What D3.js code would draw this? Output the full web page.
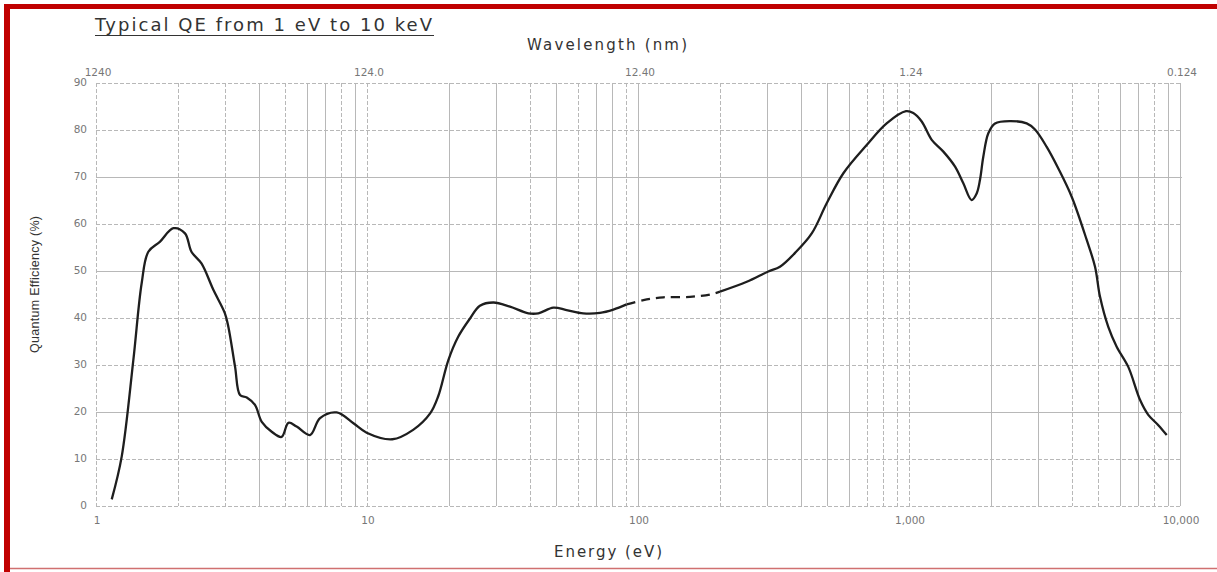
<!DOCTYPE html>
<html>
<head>
<meta charset="utf-8">
<script src="https://cdn.jsdelivr.net/npm/d3@7"></script>
<style>
  body { margin: 0; background: #fff; }
  svg { display: block; }
</style>
</head>
<body>
<div id="chart"></div>
<script>
const WIDTH = 1217;
const HEIGHT = 572;

// energy (eV) / quantum efficiency (%)
const energy1 = [1.143, 1.244, 1.373, 1.474, 1.56, 1.72, 1.93, 2.13, 2.25, 2.45, 2.71, 2.99, 3.08, 3.26, 3.40, 3.60, 3.86, 4.09, 4.45, 4.84, 5.13, 5.5, 6.16, 6.71, 7.73, 8.91, 9.97, 12.4, 14.8, 17.1, 18.3, 19.95, 21.7, 24, 26.1, 29.3, 33.7, 39.4, 42.9, 48.7, 54.5, 62.8, 72.4, 81.1, 90.8];
const qe1     = [1.4, 10.5, 31, 47.4, 54.1, 56.2, 59.1, 58.0, 54.1, 51.6, 46, 41, 38.1, 29.6, 23.6, 23.1, 21.5, 17.9, 15.8, 14.7, 17.7, 16.9, 15.1, 18.7, 19.9, 17.6, 15.6, 14.2, 16.2, 19.7, 23.3, 31, 36, 39.9, 42.6, 43.3, 42.4, 41, 41, 42.2, 41.7, 41, 41.1, 41.8, 42.9];

// interpolated (dashed) stretch
const energy2 = [90.8, 104.7, 124, 155.6, 184.4, 200.7];
const qe2     = [42.9, 43.8, 44.4, 44.5, 45, 45.6];

const energy3 = [200.7, 252, 302.6, 334, 379, 437.7, 497, 572.5, 698, 827, 975, 1037, 1114, 1213, 1339, 1479, 1585, 1702, 1777, 1828, 1880, 1962, 2077, 2359, 2718, 2917, 3222, 3557, 3984, 4527, 4858, 5069, 5437, 5838, 6444, 7118, 7637, 8318, 8933];
const qe3     = [45.6, 47.7, 49.9, 50.9, 53.8, 58, 64.4, 70.8, 76.8, 81.4, 84.0, 83.6, 81.8, 77.9, 75.4, 72.2, 68.7, 65.1, 66.5, 69.4, 74.3, 79.3, 81.4, 81.9, 81.4, 80.1, 76.4, 71.8, 65.8, 56.6, 50.9, 44.5, 38.1, 33.9, 29.6, 22.6, 19.4, 17.2, 15.1];

const energyTicks = [1, 10, 100, 1000, 10000];
const energyLabels = ['1', '10', '100', '1,000', '10,000'];
const wavelengthLabels = ['1240', '124.0', '12.40', '1.24', '0.124'];
const qeTicks = [0, 10, 20, 30, 40, 50, 60, 70, 80, 90];

// which grid lines look solid in the original (others dashed)
const solidX = new Set([4, 6, 7, 9, 20, 30, 50, 70, 80, 100, 300, 400, 500, 600, 2000, 3000, 6000, 7000, 9000, 10000]);
const solidY = new Set([20, 50, 70]);

const GRID = "#b8b8b8";
const FONT = "'DejaVu Sans', sans-serif";

var svg = d3.select("#chart").append("svg")
    .attr("width", WIDTH)
    .attr("height", HEIGHT);

// red frame
svg.append("rect").attr("x", 4).attr("y", 4).attr("width", WIDTH - 4).attr("height", 5).attr("fill", "#c00000");
svg.append("rect").attr("x", 4).attr("y", 4).attr("width", 6).attr("height", HEIGHT - 4).attr("fill", "#c00000");
svg.append("line").attr("x1", 10).attr("x2", WIDTH).attr("y1", 568.5).attr("y2", 568.5)
    .attr("stroke", "#d07070").attr("stroke-width", 1.5);

var xScale = d3.scaleLog()
    .domain([1, 10000])
    .range([96, 1180]);

var yScale = d3.scaleLinear()
    .domain([0, 90])
    .range([506, 83]);

// vertical grid at every log tick
const xGrid = xScale.ticks();
svg.append("g").selectAll("line")
    .data(xGrid)
    .enter()
    .append("line")
        .attr("x1", d => Math.round(xScale(d)) + 0.5)
        .attr("x2", d => Math.round(xScale(d)) + 0.5)
        .attr("y1", yScale(90))
        .attr("y2", yScale(0))
        .attr("stroke", GRID)
        .attr("stroke-width", 1)
        .attr("stroke-dasharray", d => solidX.has(Math.round(d)) ? null : "4,2");

svg.append("g").selectAll("line")
    .data(qeTicks)
    .enter()
    .append("line")
        .attr("x1", xScale(1))
        .attr("x2", xScale(10000) + 2)
        .attr("y1", d => Math.round(yScale(d)) + 0.5)
        .attr("y2", d => Math.round(yScale(d)) + 0.5)
        .attr("stroke", GRID)
        .attr("stroke-width", 1)
        .attr("stroke-dasharray", d => solidY.has(d) ? null : "4,2");

// y tick labels
svg.append("g").selectAll("text")
    .data(qeTicks)
    .enter()
    .append("text")
        .attr("x", 87)
        .attr("y", d => yScale(d) + 3)
        .attr("text-anchor", "end")
        .attr("font-family", FONT)
        .attr("font-size", "10.5px")
        .attr("fill", "#777")
        .text(d => d);

// bottom labels
svg.append("g").selectAll("text")
    .data(energyTicks)
    .enter()
    .append("text")
        .attr("x", d => xScale(d) + 1)
        .attr("y", 524)
        .attr("text-anchor", "middle")
        .attr("font-family", FONT)
        .attr("font-size", "10.5px")
        .attr("fill", "#777")
        .text((d, i) => energyLabels[i]);

// top (wavelength) labels
svg.append("g").selectAll("text")
    .data(energyTicks)
    .enter()
    .append("text")
        .attr("x", d => xScale(d) + 2)
        .attr("y", 76)
        .attr("text-anchor", "middle")
        .attr("font-family", FONT)
        .attr("font-size", "10.5px")
        .attr("fill", "#777")
        .text((d, i) => wavelengthLabels[i]);

// titles
svg.append("text")
    .attr("x", 95)
    .attr("y", 31)
    .attr("font-family", FONT)
    .attr("font-size", "18px")
    .attr("fill", "#333")
    .attr("textLength", 337)
    .attr("lengthAdjust", "spacing")
    .text("Typical QE from 1 eV to 10 keV");
svg.append("line")
    .attr("x1", 95).attr("x2", 434)
    .attr("y1", 35.5).attr("y2", 35.5)
    .attr("stroke", "#333").attr("stroke-width", 1.2);

svg.append("text")
    .attr("x", 527)
    .attr("y", 50)
    .attr("font-family", FONT)
    .attr("font-size", "15px")
    .attr("fill", "#333")
    .attr("textLength", 160)
    .attr("lengthAdjust", "spacing")
    .text("Wavelength (nm)");

svg.append("text")
    .attr("x", 554)
    .attr("y", 557)
    .attr("font-family", FONT)
    .attr("font-size", "15px")
    .attr("fill", "#333")
    .attr("textLength", 108)
    .attr("lengthAdjust", "spacing")
    .text("Energy (eV)");

svg.append("text")
    .attr("transform", "translate(39,353) rotate(-90)")
    .attr("font-family", "'Liberation Sans', sans-serif")
    .attr("font-size", "12.5px")
    .attr("fill", "#333")
    .attr("textLength", 137)
    .attr("lengthAdjust", "spacing")
    .text("Quantum Efficiency  (%)");

// curve
var line = d3.line()
    .x(d => xScale(d[0]))
    .y(d => yScale(d[1]))
    .curve(d3.curveCatmullRom.alpha(0.5));

const seg = (es, qs) => es.map((e, i) => [e, qs[i]]);

svg.append("path")
    .datum(seg(energy1, qe1))
    .attr("fill", "none")
    .attr("stroke", "#1e1e1e")
    .attr("stroke-width", 2.3)
    .attr("stroke-linejoin", "round")
    .attr("d", line);

svg.append("path")
    .datum(seg(energy2, qe2))
    .attr("fill", "none")
    .attr("stroke", "#1e1e1e")
    .attr("stroke-width", 2.3)
    .attr("stroke-dasharray", "9,6")
    .attr("d", line);

svg.append("path")
    .datum(seg(energy3, qe3))
    .attr("fill", "none")
    .attr("stroke", "#1e1e1e")
    .attr("stroke-width", 2.3)
    .attr("stroke-linejoin", "round")
    .attr("d", line);
</script>
</body>
</html>
